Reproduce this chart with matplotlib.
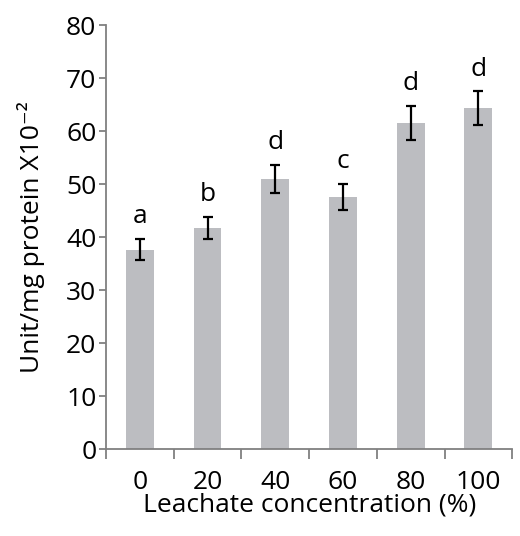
import matplotlib
matplotlib.use("Agg")
import matplotlib.pyplot as plt
import numpy as np

categories = ["0", "20", "40", "60", "80", "100"]
values = [37.6, 41.7, 51.0, 47.6, 61.6, 64.3]
errors = [2.0, 2.1, 2.6, 2.4, 3.2, 3.2]
letters = ["a", "b", "d", "c", "d", "d"]
yticks = [0, 10, 20, 30, 40, 50, 60, 70, 80]

plt.rcParams['font.family'] = ['Open Sans', 'DejaVu Sans']
fs = 19

fig = plt.figure(figsize=(5.2, 5.36), dpi=100)
ax = fig.add_axes([0.204, 0.162, 0.781, 0.791])

x = np.arange(len(categories))
ax.bar(x, values, width=0.41, color="#BCBDC1", zorder=2)
ax.errorbar(x, values, yerr=errors, fmt="none", ecolor="black",
            elinewidth=1.6, capsize=3.5, capthick=1.6, zorder=3)
for xi, v, e, l in zip(x, values, errors, letters):
    ax.text(xi, v + e + 3.0, l, ha="center", va="baseline", fontsize=fs)

ax.set_xlim(-0.5, len(categories) - 0.5)
ax.set_ylim(0, 80)
ax.set_yticks(yticks)
ax.set_xticks(x)
ax.set_xticklabels(categories)
ax.set_xticks(np.arange(-0.5, len(categories)), minor=True)

gray = "#808080"
for s in ["top", "right"]:
    ax.spines[s].set_visible(False)
for s in ["left", "bottom"]:
    ax.spines[s].set_color(gray)
    ax.spines[s].set_linewidth(1.3)

ax.tick_params(axis="y", length=5, width=1.3, color=gray, labelsize=fs, pad=2)
ax.tick_params(axis="x", which="major", length=0, labelsize=fs, pad=15)
ax.tick_params(axis="x", which="minor", length=7, width=1.3, color=gray)

ax.set_ylabel("Unit/mg protein X10\u207b\u00b2", fontsize=fs, labelpad=15)
ax.set_xlabel("Leachate concentration (%)", fontsize=fs)
ax.xaxis.set_label_coords(0.5, -0.148)
ax.xaxis.label.set_verticalalignment("baseline")

fig.savefig("out.png", dpi=100)
